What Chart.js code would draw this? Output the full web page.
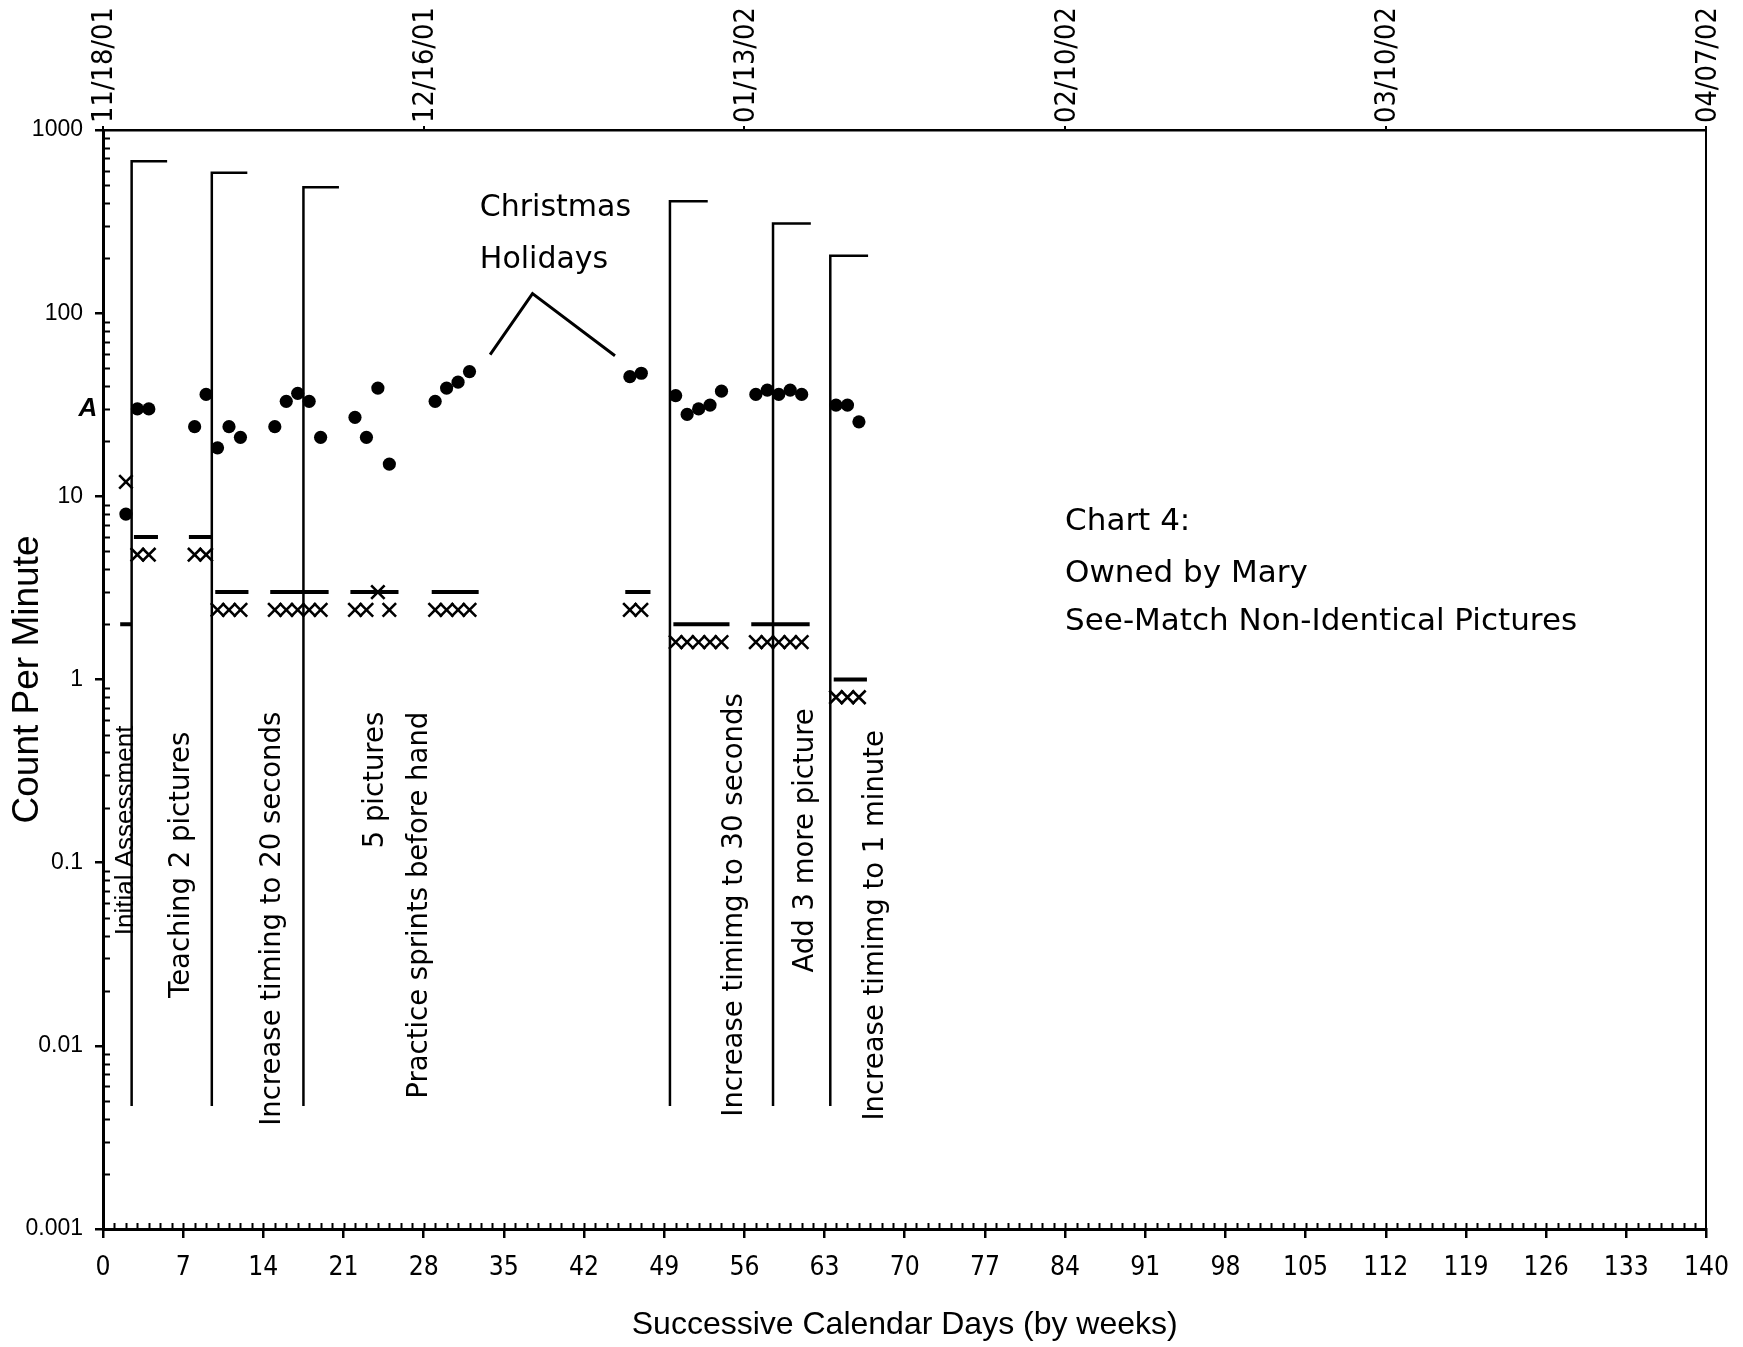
<!DOCTYPE html>
<html>
<head>
<meta charset="utf-8">
<script src="https://cdn.jsdelivr.net/npm/chart.js@4.4.1/dist/chart.umd.min.js"></script>
<style>
  html, body { margin: 0; padding: 0; background: #ffffff; }
  #wrap { width: 1743px; height: 1347px; position: relative; }
</style>
</head>
<body>
<div id="wrap"><canvas id="c"></canvas></div>
<script>
// ---------------- data ----------------
const xTickValues = [0, 7, 14, 21, 28, 35, 42, 49, 56, 63, 70, 77, 84, 91, 98, 105, 112, 119, 126, 133, 140];
const topTickValues = [0, 28, 56, 84, 112, 140];
const topTickLabels = ['11/18/01', '12/16/01', '01/13/02', '02/10/02', '03/10/02', '04/07/02'];
const yTickValues = [0.001, 0.01, 0.1, 1, 10, 100, 1000];
const yTickLabels = ['0.001', '0.01', '0.1', '1', '10', '100', '1000'];

const correctDays   = [2, 3, 4, 8, 9, 10, 11, 12, 15, 16, 17, 18, 19, 22, 23, 24, 25, 29, 30, 31, 32, 46, 47, 50, 51, 52, 53, 54, 57, 58, 59, 60, 61, 64, 65, 66];
const correctValues = [8, 30, 30, 24, 36, 18.4, 24, 21, 24, 33, 36.5, 33, 21, 27, 21, 39, 15, 33, 39, 42, 48, 45, 47, 35.5, 28, 30, 31.5, 37.5, 36, 38, 36, 38, 36, 31.5, 31.5, 25.5];

const errorDays   = [2, 3, 4, 8, 9, 10, 11, 12, 15, 16, 17, 18, 19, 22, 23, 24, 25, 29, 30, 31, 32, 46, 47, 50, 51, 52, 53, 54, 57, 58, 59, 60, 61, 64, 65, 66];
const errorValues = [12, 4.8, 4.8, 4.8, 4.8, 2.4, 2.4, 2.4, 2.4, 2.4, 2.4, 2.4, 2.4, 2.4, 2.4, 3, 2.4, 2.4, 2.4, 2.4, 2.4, 2.4, 2.4, 1.6, 1.6, 1.6, 1.6, 1.6, 1.6, 1.6, 1.6, 1.6, 1.6, 0.8, 0.8, 0.8];

// record floors (1 / timing length)
const floorStarts = [1.5, 2.7, 7.5, 9.8, 14.6, 21.6, 28.7, 45.6, 49.8, 56.6, 63.8];
const floorEnds   = [2.5, 4.8, 9.5, 12.7, 19.7, 25.8, 32.8, 47.8, 54.7, 61.7, 66.7];
const floorValues = [2, 6, 6, 3, 3, 3, 3, 3, 2, 2, 1];

// phase change lines
const phaseDays   = [2.5, 9.5, 17.5, 49.5, 58.5, 63.5];
const phaseTops   = [676, 585, 487, 408, 309, 206];
const phaseEnds   = [5.6, 12.6, 20.6, 52.8, 61.8, 66.8];
const phaseBottom = 0.0047;
const phaseLabels = [
  'Initial Assessment', 'Teaching 2 pictures', 'Increase timing to 20 seconds', '5 pictures',
  'Practice sprints before hand', 'Increase timimg to 30 seconds', 'Add 3 more picture', 'Increase timimg to 1 minute'
];
const phaseLabelDays = [2.0, 6.9, 14.8, 23.8, 27.7, 55.2, 61.4, 67.5];
const phaseLabelTops = [0.56, 0.519, 0.667, 0.667, 0.667, 0.841, 0.697, 0.53];

// Christmas holidays callout
const calloutDays   = [33.8, 37.5, 44.7];
const calloutValues = [59.4, 128, 58.6];
const aimValue = 30;

// ---------------- fonts ----------------
function hasFont(name) {
  const c = document.createElement('canvas').getContext('2d');
  const s = 'abcdefghijklmnopqrstuvwxyz0123456789/';
  let diff = false;
  for (const base of ['monospace', 'serif']) {
    c.font = '40px ' + base; const a = c.measureText(s).width;
    c.font = '40px "' + name + '", ' + base; const b = c.measureText(s).width;
    if (a !== b) diff = true;
  }
  return diff;
}
const narrowOK = hasFont('Liberation Sans Narrow');
const NARROW = narrowOK ? '"Liberation Sans Narrow", "Liberation Sans", sans-serif'
                        : '"DejaVu Sans Condensed", "Liberation Sans", sans-serif';
const nScale = narrowOK ? 1 : 0.82;
const SANS = '"Liberation Sans", Arial, sans-serif';
const HAND = '"DejaVu Sans", sans-serif';
const topFontSize = 35 * nScale;

// ---------------- datasets ----------------
const datasets = [];
phaseDays.forEach((d, i) => {
  datasets.push({
    data: [{x: d, y: phaseBottom}, {x: d, y: phaseTops[i]}, {x: phaseEnds[i], y: phaseTops[i]}],
    showLine: true, borderColor: '#000', borderWidth: 2.5, pointRadius: 0, fill: false,
    xAxisID: 'x', yAxisID: 'y'
  });
});
floorValues.forEach((v, i) => {
  datasets.push({
    data: [{x: floorStarts[i], y: v}, {x: floorEnds[i], y: v}],
    showLine: true, borderColor: '#000', borderWidth: 4, pointRadius: 0, fill: false,
    xAxisID: 'x', yAxisID: 'y'
  });
});
datasets.push({
  data: calloutDays.map((d, i) => ({x: d, y: calloutValues[i]})),
  showLine: true, borderColor: '#000', borderWidth: 3, pointRadius: 0, fill: false,
  xAxisID: 'x', yAxisID: 'y'
});
datasets.push({
  label: 'Errors',
  data: errorDays.map((d, i) => ({x: d, y: errorValues[i]})),
  pointStyle: 'crossRot', pointRadius: 9.5, borderColor: '#000', borderWidth: 2.6,
  backgroundColor: '#000', xAxisID: 'x', yAxisID: 'y'
});
datasets.push({
  label: 'Correct',
  data: correctDays.map((d, i) => ({x: d, y: correctValues[i]})),
  pointStyle: 'circle', pointRadius: 6.6, borderWidth: 0, backgroundColor: '#000',
  xAxisID: 'x', yAxisID: 'y'
});

// ---------------- annotation plugin ----------------
const annotations = {
  id: 'annotations',
  afterDraw(chart) {
    const {ctx, chartArea: ca, scales} = chart;
    const x = scales.x, y = scales.y;
    ctx.save();
    ctx.strokeStyle = '#000';
    ctx.fillStyle = '#000';
    // minor ticks on the log axis (inside)
    ctx.lineWidth = 2;
    ctx.beginPath();
    for (let e = -3; e < 3; e++) {
      for (let k = 2; k < 10; k++) {
        const py = Math.round(y.getPixelForValue(k * Math.pow(10, e))) + 0.5;
        ctx.moveTo(ca.left, py); ctx.lineTo(ca.left + 7, py);
      }
    }
    // daily minor ticks on the day axis (inside)
    for (let d = 1; d < 140; d++) {
      const px = Math.round(x.getPixelForValue(d)) + 0.5;
      ctx.moveTo(px, ca.bottom); ctx.lineTo(px, ca.bottom - 6);
    }
    ctx.stroke();

    // aim mark
    ctx.font = 'italic bold 26px ' + SANS;
    ctx.textAlign = 'center'; ctx.textBaseline = 'middle';
    ctx.fillText('A', ca.left - 15, y.getPixelForValue(aimValue));

    // phase change labels (rotated)
    phaseLabels.forEach((t, i) => {
      ctx.save();
      ctx.translate(x.getPixelForValue(phaseLabelDays[i]), y.getPixelForValue(phaseLabelTops[i]));
      ctx.rotate(-Math.PI / 2);
      ctx.font = i === 0 ? '26px ' + SANS : '27.5px ' + HAND;
      ctx.textAlign = 'right'; ctx.textBaseline = 'middle';
      ctx.fillText(t, 0, 0);
      ctx.restore();
    });

    // Christmas Holidays
    ctx.font = '30px ' + HAND;
    ctx.textAlign = 'left'; ctx.textBaseline = 'middle';
    ctx.fillText('Christmas', x.getPixelForValue(32.9), y.getPixelForValue(375));
    ctx.fillText('Holidays', x.getPixelForValue(32.9), y.getPixelForValue(195));

    // chart note
    ctx.font = '31px ' + HAND;
    ctx.fillText('Chart 4:', x.getPixelForValue(84), y.getPixelForValue(7.24));
    ctx.fillText('Owned by Mary', x.getPixelForValue(84), y.getPixelForValue(3.79));
    ctx.fillText('See-Match Non-Identical Pictures', x.getPixelForValue(84), y.getPixelForValue(2.05));
    ctx.restore();
  }
};

// ---------------- chart ----------------
new Chart(document.getElementById('c'), {
  type: 'scatter',
  data: { datasets },
  options: {
    responsive: true,
    maintainAspectRatio: false,
    animation: false,
    events: [],
    layout: { padding: { top: 0, right: 36, bottom: 0, left: 0 } },
    plugins: { legend: { display: false }, tooltip: { enabled: false } },
    scales: {
      x: {
        type: 'linear', position: 'bottom', min: 0, max: 140,
        afterBuildTicks: s => { s.ticks = xTickValues.map(v => ({ value: v })); },
        afterFit: s => { s.height = 118; },
        ticks: { autoSkip: false, maxRotation: 0, minRotation: 0, padding: 14, color: '#000',
                 font: { family: NARROW, size: 32 * nScale }, callback: v => String(v) },
        grid: { display: true, drawOnChartArea: false, drawTicks: true, tickLength: 9, color: '#000', lineWidth: 2.5 },
        border: { display: true, color: '#000', width: 3 },
        title: { display: true, text: 'Successive Calendar Days (by weeks)', color: '#000',
                 font: { family: SANS, size: 32 }, padding: { top: 0, bottom: 3 } }
      },
      xTop: {
        axis: 'x', type: 'linear', position: 'top', min: 0, max: 140,
        afterBuildTicks: s => { s.ticks = topTickValues.map(v => ({ value: v })); },
        afterFit: s => { s.height = 130; },
        ticks: { autoSkip: false, minRotation: 90, maxRotation: 90, padding: 3, color: '#000',
                 labelOffset: topFontSize * 1.2 + 2,
                 font: { family: NARROW, size: topFontSize }, callback: (v, i) => topTickLabels[i] },
        grid: { display: true, drawOnChartArea: false, drawTicks: true, tickLength: 4, color: '#000', lineWidth: 2 },
        border: { display: true, color: '#000', width: 2.5 }
      },
      y: {
        type: 'logarithmic', position: 'left', min: 0.001, max: 1000,
        afterBuildTicks: s => { s.ticks = yTickValues.map(v => ({ value: v, major: true })); },
        afterFit: s => { s.width = 103; },
        ticks: { autoSkip: false, padding: 12, color: '#000', font: { family: SANS, size: 23 },
                 callback: (v, i) => yTickLabels[i] },
        grid: { display: true, drawOnChartArea: false, drawTicks: true, tickLength: 8, color: '#000', lineWidth: 2.5 },
        border: { display: true, color: '#000', width: 3 },
        title: { display: true, text: 'Count Per Minute', color: '#000',
                 font: { family: SANS, size: 37 }, padding: { top: 6, bottom: 0 } }
      },
      yR: {
        axis: 'y', type: 'logarithmic', position: 'right', min: 0.001, max: 1000,
        afterFit: s => { s.width = 0; },
        ticks: { display: false },
        grid: { display: false, drawTicks: false },
        border: { display: true, color: '#000', width: 2 }
      }
    }
  },
  plugins: [annotations]
});
</script>
</body>
</html>
